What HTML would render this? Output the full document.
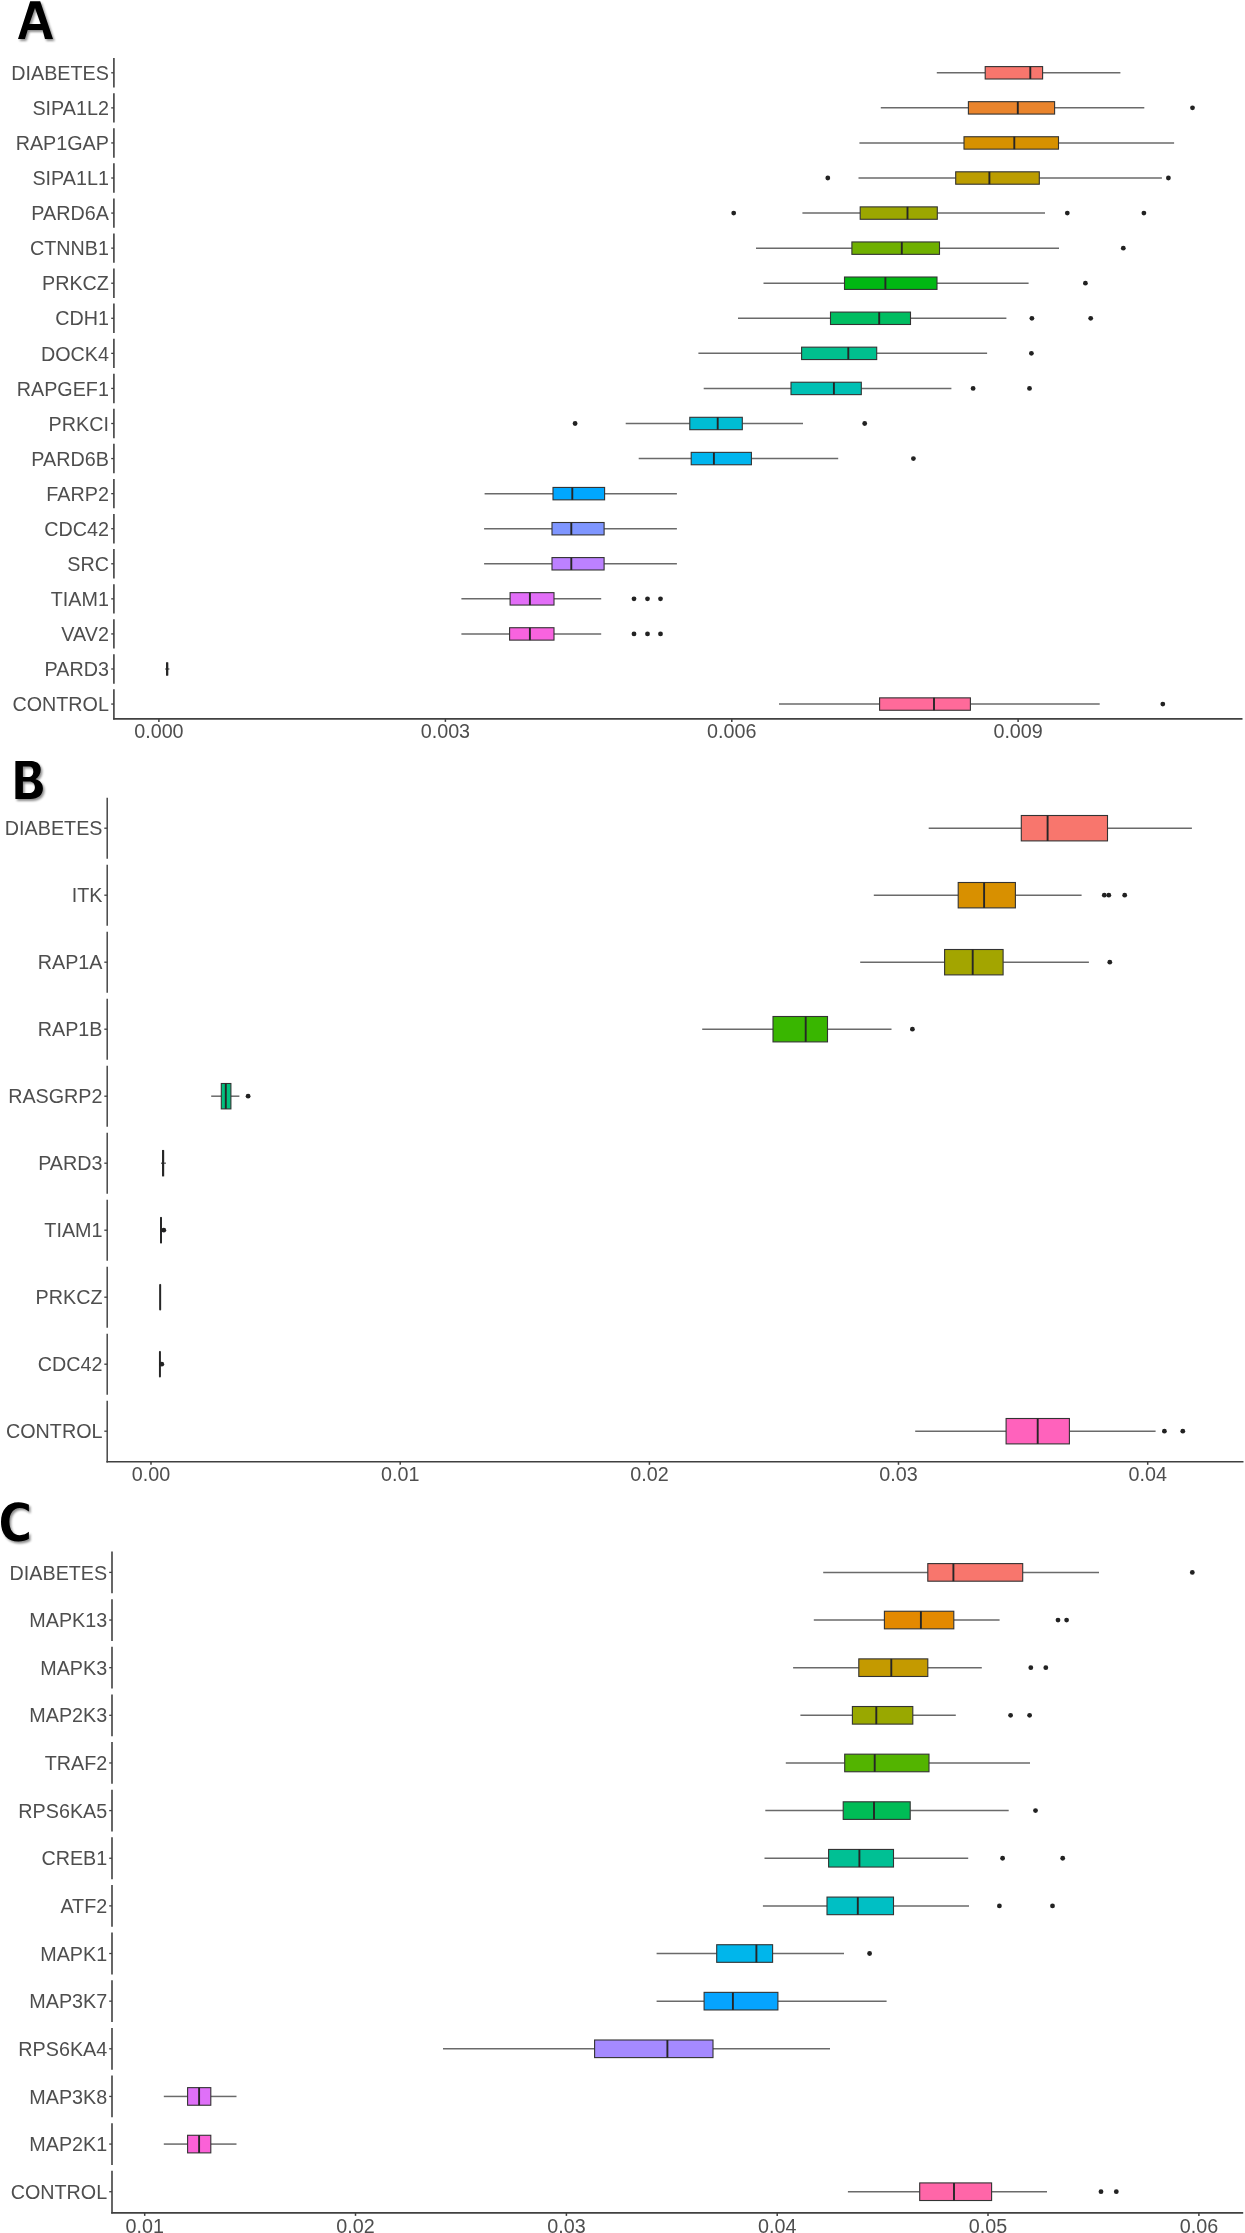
<!DOCTYPE html>
<html><head><meta charset="utf-8"><style>
html,body{margin:0;padding:0;background:#fff;}
svg{display:block;}
text{font-family:"Liberation Sans",sans-serif;}
</style></head><body>
<svg width="1245" height="2233" viewBox="0 0 1245 2233">
<defs><filter id="sh" x="-20%" y="-20%" width="150%" height="150%"><feDropShadow dx="1.6" dy="2" stdDeviation="1" flood-color="#000" flood-opacity="0.45"/></filter></defs>
<rect width="1245" height="2233" fill="#fff"/>

<g filter="url(#sh)" fill="#000">
<path d="M30.2 1.2 L40.2 1.2 L53 38.9 L45 38.9 L42.6 29.9 L27.7 29.9 L24.9 38.9 L18 38.9 Z M35 8 L29.3 24.1 L40.7 24.1 Z" fill-rule="evenodd"/>
<path fill-rule="evenodd" d="M15.4 761 L30 761 C36.5 761 40.7 763.5 40.7 769.8 C40.7 774 38.5 777 35.5 779.3 C40 780.5 42.9 783.5 42.9 788.5 C42.9 795 38 798.9 30.5 798.9 L15.4 798.9 Z M22.9 766.4 L29 766.4 C32 766.4 33.3 768 33.3 771.5 C33.3 775 31.5 777 28 777 L22.9 777 Z M22.9 781.6 L29 781.6 C33 781.6 34.9 784 34.9 787.3 C34.9 791 32.5 793.1 29 793.1 L22.9 793.1 Z"/>
<path d="M28.9 1504.8 C26 1503 22.5 1502.2 18.5 1502.2 C7.5 1502.2 1 1510 1 1521.9 C1 1534 7.5 1541.6 18.5 1541.6 C22.5 1541.6 26 1540.6 28.9 1538.8 L28.9 1531.8 C26.5 1533.6 23.5 1535.2 19.8 1535.2 C13.5 1535.2 9.4 1530 9.4 1521.7 C9.4 1513.4 13.5 1508 19.8 1508 C23.5 1508 26.5 1509.6 28.9 1511.5 Z"/>
</g>
<line x1="113.9" y1="58.1" x2="113.9" y2="87.5" stroke="#404040" stroke-width="1.6"/>
<line x1="111.2" y1="72.8" x2="113.9" y2="72.8" stroke="#404040" stroke-width="1.3"/>
<line x1="113.9" y1="93.17" x2="113.9" y2="122.57" stroke="#404040" stroke-width="1.6"/>
<line x1="111.2" y1="107.87" x2="113.9" y2="107.87" stroke="#404040" stroke-width="1.3"/>
<line x1="113.9" y1="128.24" x2="113.9" y2="157.64" stroke="#404040" stroke-width="1.6"/>
<line x1="111.2" y1="142.94" x2="113.9" y2="142.94" stroke="#404040" stroke-width="1.3"/>
<line x1="113.9" y1="163.31" x2="113.9" y2="192.71" stroke="#404040" stroke-width="1.6"/>
<line x1="111.2" y1="178.01" x2="113.9" y2="178.01" stroke="#404040" stroke-width="1.3"/>
<line x1="113.9" y1="198.38" x2="113.9" y2="227.78" stroke="#404040" stroke-width="1.6"/>
<line x1="111.2" y1="213.08" x2="113.9" y2="213.08" stroke="#404040" stroke-width="1.3"/>
<line x1="113.9" y1="233.45" x2="113.9" y2="262.85" stroke="#404040" stroke-width="1.6"/>
<line x1="111.2" y1="248.15" x2="113.9" y2="248.15" stroke="#404040" stroke-width="1.3"/>
<line x1="113.9" y1="268.52" x2="113.9" y2="297.92" stroke="#404040" stroke-width="1.6"/>
<line x1="111.2" y1="283.22" x2="113.9" y2="283.22" stroke="#404040" stroke-width="1.3"/>
<line x1="113.9" y1="303.59" x2="113.9" y2="332.99" stroke="#404040" stroke-width="1.6"/>
<line x1="111.2" y1="318.29" x2="113.9" y2="318.29" stroke="#404040" stroke-width="1.3"/>
<line x1="113.9" y1="338.66" x2="113.9" y2="368.06" stroke="#404040" stroke-width="1.6"/>
<line x1="111.2" y1="353.36" x2="113.9" y2="353.36" stroke="#404040" stroke-width="1.3"/>
<line x1="113.9" y1="373.73" x2="113.9" y2="403.13" stroke="#404040" stroke-width="1.6"/>
<line x1="111.2" y1="388.43" x2="113.9" y2="388.43" stroke="#404040" stroke-width="1.3"/>
<line x1="113.9" y1="408.8" x2="113.9" y2="438.2" stroke="#404040" stroke-width="1.6"/>
<line x1="111.2" y1="423.5" x2="113.9" y2="423.5" stroke="#404040" stroke-width="1.3"/>
<line x1="113.9" y1="443.87" x2="113.9" y2="473.27" stroke="#404040" stroke-width="1.6"/>
<line x1="111.2" y1="458.57" x2="113.9" y2="458.57" stroke="#404040" stroke-width="1.3"/>
<line x1="113.9" y1="478.94" x2="113.9" y2="508.34" stroke="#404040" stroke-width="1.6"/>
<line x1="111.2" y1="493.64" x2="113.9" y2="493.64" stroke="#404040" stroke-width="1.3"/>
<line x1="113.9" y1="514.01" x2="113.9" y2="543.41" stroke="#404040" stroke-width="1.6"/>
<line x1="111.2" y1="528.71" x2="113.9" y2="528.71" stroke="#404040" stroke-width="1.3"/>
<line x1="113.9" y1="549.08" x2="113.9" y2="578.48" stroke="#404040" stroke-width="1.6"/>
<line x1="111.2" y1="563.78" x2="113.9" y2="563.78" stroke="#404040" stroke-width="1.3"/>
<line x1="113.9" y1="584.15" x2="113.9" y2="613.55" stroke="#404040" stroke-width="1.6"/>
<line x1="111.2" y1="598.85" x2="113.9" y2="598.85" stroke="#404040" stroke-width="1.3"/>
<line x1="113.9" y1="619.22" x2="113.9" y2="648.62" stroke="#404040" stroke-width="1.6"/>
<line x1="111.2" y1="633.92" x2="113.9" y2="633.92" stroke="#404040" stroke-width="1.3"/>
<line x1="113.9" y1="654.29" x2="113.9" y2="683.69" stroke="#404040" stroke-width="1.6"/>
<line x1="111.2" y1="668.99" x2="113.9" y2="668.99" stroke="#404040" stroke-width="1.3"/>
<line x1="113.9" y1="689.36" x2="113.9" y2="719.5" stroke="#404040" stroke-width="1.6"/>
<line x1="111.2" y1="704.06" x2="113.9" y2="704.06" stroke="#404040" stroke-width="1.3"/>
<line x1="113.1" y1="718.9" x2="1242.5" y2="718.9" stroke="#404040" stroke-width="1.6"/>
<line x1="158.9" y1="718.9" x2="158.9" y2="721.9" stroke="#404040" stroke-width="1.5"/>
<line x1="445.4" y1="718.9" x2="445.4" y2="721.9" stroke="#404040" stroke-width="1.5"/>
<line x1="731.8" y1="718.9" x2="731.8" y2="721.9" stroke="#404040" stroke-width="1.5"/>
<line x1="1018.1" y1="718.9" x2="1018.1" y2="721.9" stroke="#404040" stroke-width="1.5"/>
<line x1="936.8" y1="72.8" x2="985.2" y2="72.8" stroke="#6A6A6A" stroke-width="1.5"/>
<line x1="1042.6" y1="72.8" x2="1120.4" y2="72.8" stroke="#6A6A6A" stroke-width="1.5"/>
<rect x="985.2" y="66.6" width="57.4" height="12.4" fill="#F8766D" stroke="#333333" stroke-width="1.1"/>
<line x1="1030.3" y1="66.6" x2="1030.3" y2="79" stroke="#262626" stroke-width="1.9"/>
<line x1="880.8" y1="107.87" x2="968.4" y2="107.87" stroke="#6A6A6A" stroke-width="1.5"/>
<line x1="1054.6" y1="107.87" x2="1144.3" y2="107.87" stroke="#6A6A6A" stroke-width="1.5"/>
<rect x="968.4" y="101.67" width="86.2" height="12.4" fill="#E9842C" stroke="#333333" stroke-width="1.1"/>
<line x1="1017.8" y1="101.67" x2="1017.8" y2="114.07" stroke="#262626" stroke-width="1.9"/>
<circle cx="1192.5" cy="107.87" r="2.4" fill="#222222"/>
<line x1="859.4" y1="142.94" x2="964" y2="142.94" stroke="#6A6A6A" stroke-width="1.5"/>
<line x1="1058.5" y1="142.94" x2="1174.1" y2="142.94" stroke="#6A6A6A" stroke-width="1.5"/>
<rect x="964" y="136.74" width="94.5" height="12.4" fill="#D69100" stroke="#333333" stroke-width="1.1"/>
<line x1="1014.3" y1="136.74" x2="1014.3" y2="149.14" stroke="#262626" stroke-width="1.9"/>
<line x1="858.5" y1="178.01" x2="955.7" y2="178.01" stroke="#6A6A6A" stroke-width="1.5"/>
<line x1="1039.3" y1="178.01" x2="1161.9" y2="178.01" stroke="#6A6A6A" stroke-width="1.5"/>
<rect x="955.7" y="171.81" width="83.6" height="12.4" fill="#BC9D00" stroke="#333333" stroke-width="1.1"/>
<line x1="989.4" y1="171.81" x2="989.4" y2="184.21" stroke="#262626" stroke-width="1.9"/>
<circle cx="827.8" cy="178.01" r="2.4" fill="#222222"/>
<circle cx="1168.4" cy="178.01" r="2.4" fill="#222222"/>
<line x1="802.4" y1="213.08" x2="860.2" y2="213.08" stroke="#6A6A6A" stroke-width="1.5"/>
<line x1="937.3" y1="213.08" x2="1045" y2="213.08" stroke="#6A6A6A" stroke-width="1.5"/>
<rect x="860.2" y="206.88" width="77.1" height="12.4" fill="#9CA700" stroke="#333333" stroke-width="1.1"/>
<line x1="907.5" y1="206.88" x2="907.5" y2="219.28" stroke="#262626" stroke-width="1.9"/>
<circle cx="733.7" cy="213.08" r="2.4" fill="#222222"/>
<circle cx="1067.3" cy="213.08" r="2.4" fill="#222222"/>
<circle cx="1143.9" cy="213.08" r="2.4" fill="#222222"/>
<line x1="756" y1="248.15" x2="851.9" y2="248.15" stroke="#6A6A6A" stroke-width="1.5"/>
<line x1="939.5" y1="248.15" x2="1059" y2="248.15" stroke="#6A6A6A" stroke-width="1.5"/>
<rect x="851.9" y="241.95" width="87.6" height="12.4" fill="#6FB000" stroke="#333333" stroke-width="1.1"/>
<line x1="901.8" y1="241.95" x2="901.8" y2="254.35" stroke="#262626" stroke-width="1.9"/>
<circle cx="1123.3" cy="248.15" r="2.4" fill="#222222"/>
<line x1="763.5" y1="283.22" x2="844.5" y2="283.22" stroke="#6A6A6A" stroke-width="1.5"/>
<line x1="937" y1="283.22" x2="1028.6" y2="283.22" stroke="#6A6A6A" stroke-width="1.5"/>
<rect x="844.5" y="277.02" width="92.5" height="12.4" fill="#00B813" stroke="#333333" stroke-width="1.1"/>
<line x1="885.4" y1="277.02" x2="885.4" y2="289.42" stroke="#262626" stroke-width="1.9"/>
<circle cx="1085.4" cy="283.22" r="2.4" fill="#222222"/>
<line x1="738" y1="318.29" x2="830.5" y2="318.29" stroke="#6A6A6A" stroke-width="1.5"/>
<line x1="910.5" y1="318.29" x2="1006.4" y2="318.29" stroke="#6A6A6A" stroke-width="1.5"/>
<rect x="830.5" y="312.09" width="80" height="12.4" fill="#00BD61" stroke="#333333" stroke-width="1.1"/>
<line x1="879.2" y1="312.09" x2="879.2" y2="324.49" stroke="#262626" stroke-width="1.9"/>
<circle cx="1031.9" cy="318.29" r="2.4" fill="#222222"/>
<circle cx="1090.7" cy="318.29" r="2.4" fill="#222222"/>
<line x1="698.4" y1="353.36" x2="801.6" y2="353.36" stroke="#6A6A6A" stroke-width="1.5"/>
<line x1="876.7" y1="353.36" x2="987.1" y2="353.36" stroke="#6A6A6A" stroke-width="1.5"/>
<rect x="801.6" y="347.16" width="75.1" height="12.4" fill="#00C08E" stroke="#333333" stroke-width="1.1"/>
<line x1="848.3" y1="347.16" x2="848.3" y2="359.56" stroke="#262626" stroke-width="1.9"/>
<circle cx="1031.4" cy="353.36" r="2.4" fill="#222222"/>
<line x1="703.7" y1="388.43" x2="791" y2="388.43" stroke="#6A6A6A" stroke-width="1.5"/>
<line x1="861.3" y1="388.43" x2="951.4" y2="388.43" stroke="#6A6A6A" stroke-width="1.5"/>
<rect x="791" y="382.23" width="70.3" height="12.4" fill="#00C0B4" stroke="#333333" stroke-width="1.1"/>
<line x1="833.9" y1="382.23" x2="833.9" y2="394.63" stroke="#262626" stroke-width="1.9"/>
<circle cx="973.1" cy="388.43" r="2.4" fill="#222222"/>
<circle cx="1029.5" cy="388.43" r="2.4" fill="#222222"/>
<line x1="625.7" y1="423.5" x2="689.8" y2="423.5" stroke="#6A6A6A" stroke-width="1.5"/>
<line x1="742.3" y1="423.5" x2="803" y2="423.5" stroke="#6A6A6A" stroke-width="1.5"/>
<rect x="689.8" y="417.3" width="52.5" height="12.4" fill="#00BDD4" stroke="#333333" stroke-width="1.1"/>
<line x1="717.7" y1="417.3" x2="717.7" y2="429.7" stroke="#262626" stroke-width="1.9"/>
<circle cx="575.1" cy="423.5" r="2.4" fill="#222222"/>
<circle cx="864.7" cy="423.5" r="2.4" fill="#222222"/>
<line x1="638.7" y1="458.57" x2="691.2" y2="458.57" stroke="#6A6A6A" stroke-width="1.5"/>
<line x1="751.4" y1="458.57" x2="838.2" y2="458.57" stroke="#6A6A6A" stroke-width="1.5"/>
<rect x="691.2" y="452.37" width="60.2" height="12.4" fill="#00B5EE" stroke="#333333" stroke-width="1.1"/>
<line x1="713.9" y1="452.37" x2="713.9" y2="464.77" stroke="#262626" stroke-width="1.9"/>
<circle cx="913.4" cy="458.57" r="2.4" fill="#222222"/>
<line x1="484.6" y1="493.64" x2="553" y2="493.64" stroke="#6A6A6A" stroke-width="1.5"/>
<line x1="604.6" y1="493.64" x2="676.9" y2="493.64" stroke="#6A6A6A" stroke-width="1.5"/>
<rect x="553" y="487.44" width="51.6" height="12.4" fill="#00A7FF" stroke="#333333" stroke-width="1.1"/>
<line x1="572.3" y1="487.44" x2="572.3" y2="499.84" stroke="#262626" stroke-width="1.9"/>
<line x1="484.1" y1="528.71" x2="552" y2="528.71" stroke="#6A6A6A" stroke-width="1.5"/>
<line x1="604.1" y1="528.71" x2="676.9" y2="528.71" stroke="#6A6A6A" stroke-width="1.5"/>
<rect x="552" y="522.51" width="52.1" height="12.4" fill="#7F96FF" stroke="#333333" stroke-width="1.1"/>
<line x1="571.3" y1="522.51" x2="571.3" y2="534.91" stroke="#262626" stroke-width="1.9"/>
<line x1="484.1" y1="563.78" x2="552" y2="563.78" stroke="#6A6A6A" stroke-width="1.5"/>
<line x1="604.1" y1="563.78" x2="676.9" y2="563.78" stroke="#6A6A6A" stroke-width="1.5"/>
<rect x="552" y="557.58" width="52.1" height="12.4" fill="#BC81FF" stroke="#333333" stroke-width="1.1"/>
<line x1="571.3" y1="557.58" x2="571.3" y2="569.98" stroke="#262626" stroke-width="1.9"/>
<line x1="461.4" y1="598.85" x2="510.1" y2="598.85" stroke="#6A6A6A" stroke-width="1.5"/>
<line x1="554" y1="598.85" x2="601.2" y2="598.85" stroke="#6A6A6A" stroke-width="1.5"/>
<rect x="510.1" y="592.65" width="43.9" height="12.4" fill="#E26EF7" stroke="#333333" stroke-width="1.1"/>
<line x1="529.9" y1="592.65" x2="529.9" y2="605.05" stroke="#262626" stroke-width="1.9"/>
<circle cx="634" cy="598.85" r="2.4" fill="#222222"/>
<circle cx="647.5" cy="598.85" r="2.4" fill="#222222"/>
<circle cx="660.5" cy="598.85" r="2.4" fill="#222222"/>
<line x1="461.4" y1="633.92" x2="509.6" y2="633.92" stroke="#6A6A6A" stroke-width="1.5"/>
<line x1="554" y1="633.92" x2="601.2" y2="633.92" stroke="#6A6A6A" stroke-width="1.5"/>
<rect x="509.6" y="627.72" width="44.4" height="12.4" fill="#F863DF" stroke="#333333" stroke-width="1.1"/>
<line x1="529.9" y1="627.72" x2="529.9" y2="640.12" stroke="#262626" stroke-width="1.9"/>
<circle cx="634" cy="633.92" r="2.4" fill="#222222"/>
<circle cx="647.5" cy="633.92" r="2.4" fill="#222222"/>
<circle cx="660.5" cy="633.92" r="2.4" fill="#222222"/>
<line x1="165.2" y1="668.99" x2="166.6" y2="668.99" stroke="#6A6A6A" stroke-width="1.5"/>
<line x1="167.7" y1="668.99" x2="169.4" y2="668.99" stroke="#6A6A6A" stroke-width="1.5"/>
<rect x="166.6" y="662.79" width="1.1" height="12.4" fill="#FF62BF" stroke="#333333" stroke-width="1.1"/>
<line x1="167.15" y1="662.79" x2="167.15" y2="675.19" stroke="#262626" stroke-width="1.9"/>
<line x1="779" y1="704.06" x2="879.6" y2="704.06" stroke="#6A6A6A" stroke-width="1.5"/>
<line x1="970.4" y1="704.06" x2="1099.7" y2="704.06" stroke="#6A6A6A" stroke-width="1.5"/>
<rect x="879.6" y="697.86" width="90.8" height="12.4" fill="#FF6A9A" stroke="#333333" stroke-width="1.1"/>
<line x1="934" y1="697.86" x2="934" y2="710.26" stroke="#262626" stroke-width="1.9"/>
<circle cx="1162.8" cy="704.06" r="2.4" fill="#222222"/>
<g opacity="0.995">
<text transform="translate(108.9,79.95) scale(0.95,1)" text-anchor="end" font-size="20.8" fill="#4D4D4D">DIABETES</text>
<text transform="translate(108.9,115.02) scale(0.95,1)" text-anchor="end" font-size="20.8" fill="#4D4D4D">SIPA1L2</text>
<text transform="translate(108.9,150.09) scale(0.95,1)" text-anchor="end" font-size="20.8" fill="#4D4D4D">RAP1GAP</text>
<text transform="translate(108.9,185.16) scale(0.95,1)" text-anchor="end" font-size="20.8" fill="#4D4D4D">SIPA1L1</text>
<text transform="translate(108.9,220.23) scale(0.95,1)" text-anchor="end" font-size="20.8" fill="#4D4D4D">PARD6A</text>
<text transform="translate(108.9,255.3) scale(0.95,1)" text-anchor="end" font-size="20.8" fill="#4D4D4D">CTNNB1</text>
<text transform="translate(108.9,290.37) scale(0.95,1)" text-anchor="end" font-size="20.8" fill="#4D4D4D">PRKCZ</text>
<text transform="translate(108.9,325.44) scale(0.95,1)" text-anchor="end" font-size="20.8" fill="#4D4D4D">CDH1</text>
<text transform="translate(108.9,360.51) scale(0.95,1)" text-anchor="end" font-size="20.8" fill="#4D4D4D">DOCK4</text>
<text transform="translate(108.9,395.58) scale(0.95,1)" text-anchor="end" font-size="20.8" fill="#4D4D4D">RAPGEF1</text>
<text transform="translate(108.9,430.65) scale(0.95,1)" text-anchor="end" font-size="20.8" fill="#4D4D4D">PRKCI</text>
<text transform="translate(108.9,465.72) scale(0.95,1)" text-anchor="end" font-size="20.8" fill="#4D4D4D">PARD6B</text>
<text transform="translate(108.9,500.79) scale(0.95,1)" text-anchor="end" font-size="20.8" fill="#4D4D4D">FARP2</text>
<text transform="translate(108.9,535.86) scale(0.95,1)" text-anchor="end" font-size="20.8" fill="#4D4D4D">CDC42</text>
<text transform="translate(108.9,570.93) scale(0.95,1)" text-anchor="end" font-size="20.8" fill="#4D4D4D">SRC</text>
<text transform="translate(108.9,606) scale(0.95,1)" text-anchor="end" font-size="20.8" fill="#4D4D4D">TIAM1</text>
<text transform="translate(108.9,641.07) scale(0.95,1)" text-anchor="end" font-size="20.8" fill="#4D4D4D">VAV2</text>
<text transform="translate(108.9,676.14) scale(0.95,1)" text-anchor="end" font-size="20.8" fill="#4D4D4D">PARD3</text>
<text transform="translate(108.9,711.21) scale(0.95,1)" text-anchor="end" font-size="20.8" fill="#4D4D4D">CONTROL</text>
<text transform="translate(158.9,738.3) scale(0.95,1)" text-anchor="middle" font-size="20.8" fill="#4D4D4D">0.000</text>
<text transform="translate(445.4,738.3) scale(0.95,1)" text-anchor="middle" font-size="20.8" fill="#4D4D4D">0.003</text>
<text transform="translate(731.8,738.3) scale(0.95,1)" text-anchor="middle" font-size="20.8" fill="#4D4D4D">0.006</text>
<text transform="translate(1018.1,738.3) scale(0.95,1)" text-anchor="middle" font-size="20.8" fill="#4D4D4D">0.009</text>
</g>
<line x1="107.2" y1="797.7" x2="107.2" y2="858.7" stroke="#404040" stroke-width="1.45"/>
<line x1="104.3" y1="828.2" x2="107.2" y2="828.2" stroke="#404040" stroke-width="1.3"/>
<line x1="107.2" y1="864.7" x2="107.2" y2="925.7" stroke="#404040" stroke-width="1.45"/>
<line x1="104.3" y1="895.2" x2="107.2" y2="895.2" stroke="#404040" stroke-width="1.3"/>
<line x1="107.2" y1="931.7" x2="107.2" y2="992.7" stroke="#404040" stroke-width="1.45"/>
<line x1="104.3" y1="962.2" x2="107.2" y2="962.2" stroke="#404040" stroke-width="1.3"/>
<line x1="107.2" y1="998.7" x2="107.2" y2="1059.7" stroke="#404040" stroke-width="1.45"/>
<line x1="104.3" y1="1029.2" x2="107.2" y2="1029.2" stroke="#404040" stroke-width="1.3"/>
<line x1="107.2" y1="1065.7" x2="107.2" y2="1126.7" stroke="#404040" stroke-width="1.45"/>
<line x1="104.3" y1="1096.2" x2="107.2" y2="1096.2" stroke="#404040" stroke-width="1.3"/>
<line x1="107.2" y1="1132.7" x2="107.2" y2="1193.7" stroke="#404040" stroke-width="1.45"/>
<line x1="104.3" y1="1163.2" x2="107.2" y2="1163.2" stroke="#404040" stroke-width="1.3"/>
<line x1="107.2" y1="1199.7" x2="107.2" y2="1260.7" stroke="#404040" stroke-width="1.45"/>
<line x1="104.3" y1="1230.2" x2="107.2" y2="1230.2" stroke="#404040" stroke-width="1.3"/>
<line x1="107.2" y1="1266.7" x2="107.2" y2="1327.7" stroke="#404040" stroke-width="1.45"/>
<line x1="104.3" y1="1297.2" x2="107.2" y2="1297.2" stroke="#404040" stroke-width="1.3"/>
<line x1="107.2" y1="1333.7" x2="107.2" y2="1394.7" stroke="#404040" stroke-width="1.45"/>
<line x1="104.3" y1="1364.2" x2="107.2" y2="1364.2" stroke="#404040" stroke-width="1.3"/>
<line x1="107.2" y1="1400.7" x2="107.2" y2="1462.4" stroke="#404040" stroke-width="1.45"/>
<line x1="104.3" y1="1431.2" x2="107.2" y2="1431.2" stroke="#404040" stroke-width="1.3"/>
<line x1="106.4" y1="1461.8" x2="1243.5" y2="1461.8" stroke="#404040" stroke-width="1.45"/>
<line x1="151" y1="1461.8" x2="151" y2="1464.8" stroke="#404040" stroke-width="1.5"/>
<line x1="400.2" y1="1461.8" x2="400.2" y2="1464.8" stroke="#404040" stroke-width="1.5"/>
<line x1="649.4" y1="1461.8" x2="649.4" y2="1464.8" stroke="#404040" stroke-width="1.5"/>
<line x1="898.5" y1="1461.8" x2="898.5" y2="1464.8" stroke="#404040" stroke-width="1.5"/>
<line x1="1147.7" y1="1461.8" x2="1147.7" y2="1464.8" stroke="#404040" stroke-width="1.5"/>
<line x1="928.7" y1="828.2" x2="1021.3" y2="828.2" stroke="#6A6A6A" stroke-width="1.5"/>
<line x1="1107.5" y1="828.2" x2="1191.9" y2="828.2" stroke="#6A6A6A" stroke-width="1.5"/>
<rect x="1021.3" y="815.5" width="86.2" height="25.4" fill="#F8766D" stroke="#333333" stroke-width="1.1"/>
<line x1="1047.6" y1="815.5" x2="1047.6" y2="840.9" stroke="#262626" stroke-width="1.9"/>
<line x1="873.8" y1="895.2" x2="958.2" y2="895.2" stroke="#6A6A6A" stroke-width="1.5"/>
<line x1="1015.4" y1="895.2" x2="1081.6" y2="895.2" stroke="#6A6A6A" stroke-width="1.5"/>
<rect x="958.2" y="882.5" width="57.2" height="25.4" fill="#D89000" stroke="#333333" stroke-width="1.1"/>
<line x1="984.1" y1="882.5" x2="984.1" y2="907.9" stroke="#262626" stroke-width="1.9"/>
<circle cx="1104.3" cy="895.2" r="2.4" fill="#222222"/>
<circle cx="1108.8" cy="895.2" r="2.4" fill="#222222"/>
<circle cx="1124.7" cy="895.2" r="2.4" fill="#222222"/>
<line x1="860.2" y1="962.2" x2="944.6" y2="962.2" stroke="#6A6A6A" stroke-width="1.5"/>
<line x1="1003.1" y1="962.2" x2="1088.9" y2="962.2" stroke="#6A6A6A" stroke-width="1.5"/>
<rect x="944.6" y="949.5" width="58.5" height="25.4" fill="#A3A500" stroke="#333333" stroke-width="1.1"/>
<line x1="972.7" y1="949.5" x2="972.7" y2="974.9" stroke="#262626" stroke-width="1.9"/>
<circle cx="1109.8" cy="962.2" r="2.4" fill="#222222"/>
<line x1="702.2" y1="1029.2" x2="773" y2="1029.2" stroke="#6A6A6A" stroke-width="1.5"/>
<line x1="827.5" y1="1029.2" x2="891.5" y2="1029.2" stroke="#6A6A6A" stroke-width="1.5"/>
<rect x="773" y="1016.5" width="54.5" height="25.4" fill="#39B600" stroke="#333333" stroke-width="1.1"/>
<line x1="805.7" y1="1016.5" x2="805.7" y2="1041.9" stroke="#262626" stroke-width="1.9"/>
<circle cx="912.4" cy="1029.2" r="2.4" fill="#222222"/>
<line x1="211.2" y1="1096.2" x2="221.3" y2="1096.2" stroke="#6A6A6A" stroke-width="1.5"/>
<line x1="230.9" y1="1096.2" x2="239.4" y2="1096.2" stroke="#6A6A6A" stroke-width="1.5"/>
<rect x="221.3" y="1083.5" width="9.6" height="25.4" fill="#00BF7D" stroke="#333333" stroke-width="1.1"/>
<line x1="225.8" y1="1083.5" x2="225.8" y2="1108.9" stroke="#262626" stroke-width="1.9"/>
<circle cx="248.1" cy="1096.2" r="2.4" fill="#222222"/>
<line x1="161" y1="1163.2" x2="162.6" y2="1163.2" stroke="#6A6A6A" stroke-width="1.5"/>
<line x1="163.6" y1="1163.2" x2="165.9" y2="1163.2" stroke="#6A6A6A" stroke-width="1.5"/>
<rect x="162.6" y="1150.5" width="1" height="25.4" fill="#00BFC4" stroke="#333333" stroke-width="1.1"/>
<line x1="163.1" y1="1150.5" x2="163.1" y2="1175.9" stroke="#262626" stroke-width="1.9"/>
<line x1="160.6" y1="1230.2" x2="160.7" y2="1230.2" stroke="#6A6A6A" stroke-width="1.5"/>
<line x1="161.3" y1="1230.2" x2="161.4" y2="1230.2" stroke="#6A6A6A" stroke-width="1.5"/>
<rect x="160.7" y="1217.5" width="0.6" height="25.4" fill="#00B0F6" stroke="#333333" stroke-width="1.1"/>
<line x1="161" y1="1217.5" x2="161" y2="1242.9" stroke="#262626" stroke-width="1.9"/>
<circle cx="163.8" cy="1230.2" r="2.4" fill="#222222"/>
<line x1="160" y1="1297.2" x2="160.1" y2="1297.2" stroke="#6A6A6A" stroke-width="1.5"/>
<line x1="160.3" y1="1297.2" x2="160.4" y2="1297.2" stroke="#6A6A6A" stroke-width="1.5"/>
<rect x="160.1" y="1284.5" width="0.2" height="25.4" fill="#9590FF" stroke="#333333" stroke-width="1.1"/>
<line x1="160.2" y1="1284.5" x2="160.2" y2="1309.9" stroke="#262626" stroke-width="1.9"/>
<line x1="159.7" y1="1364.2" x2="159.8" y2="1364.2" stroke="#6A6A6A" stroke-width="1.5"/>
<line x1="160" y1="1364.2" x2="160.1" y2="1364.2" stroke="#6A6A6A" stroke-width="1.5"/>
<rect x="159.8" y="1351.5" width="0.2" height="25.4" fill="#E76BF3" stroke="#333333" stroke-width="1.1"/>
<line x1="159.9" y1="1351.5" x2="159.9" y2="1376.9" stroke="#262626" stroke-width="1.9"/>
<circle cx="161.8" cy="1364.2" r="2.4" fill="#222222"/>
<line x1="915.2" y1="1431.2" x2="1006.1" y2="1431.2" stroke="#6A6A6A" stroke-width="1.5"/>
<line x1="1069.4" y1="1431.2" x2="1155.6" y2="1431.2" stroke="#6A6A6A" stroke-width="1.5"/>
<rect x="1006.1" y="1418.5" width="63.3" height="25.4" fill="#FF62BC" stroke="#333333" stroke-width="1.1"/>
<line x1="1037.7" y1="1418.5" x2="1037.7" y2="1443.9" stroke="#262626" stroke-width="1.9"/>
<circle cx="1164.4" cy="1431.2" r="2.4" fill="#222222"/>
<circle cx="1182.8" cy="1431.2" r="2.4" fill="#222222"/>
<g opacity="0.995">
<text transform="translate(102.5,835.35) scale(0.95,1)" text-anchor="end" font-size="20.8" fill="#4D4D4D">DIABETES</text>
<text transform="translate(102.5,902.35) scale(0.95,1)" text-anchor="end" font-size="20.8" fill="#4D4D4D">ITK</text>
<text transform="translate(102.5,969.35) scale(0.95,1)" text-anchor="end" font-size="20.8" fill="#4D4D4D">RAP1A</text>
<text transform="translate(102.5,1036.35) scale(0.95,1)" text-anchor="end" font-size="20.8" fill="#4D4D4D">RAP1B</text>
<text transform="translate(102.5,1103.35) scale(0.95,1)" text-anchor="end" font-size="20.8" fill="#4D4D4D">RASGRP2</text>
<text transform="translate(102.5,1170.35) scale(0.95,1)" text-anchor="end" font-size="20.8" fill="#4D4D4D">PARD3</text>
<text transform="translate(102.5,1237.35) scale(0.95,1)" text-anchor="end" font-size="20.8" fill="#4D4D4D">TIAM1</text>
<text transform="translate(102.5,1304.35) scale(0.95,1)" text-anchor="end" font-size="20.8" fill="#4D4D4D">PRKCZ</text>
<text transform="translate(102.5,1371.35) scale(0.95,1)" text-anchor="end" font-size="20.8" fill="#4D4D4D">CDC42</text>
<text transform="translate(102.5,1438.35) scale(0.95,1)" text-anchor="end" font-size="20.8" fill="#4D4D4D">CONTROL</text>
<text transform="translate(151,1481.4) scale(0.95,1)" text-anchor="middle" font-size="20.8" fill="#4D4D4D">0.00</text>
<text transform="translate(400.2,1481.4) scale(0.95,1)" text-anchor="middle" font-size="20.8" fill="#4D4D4D">0.01</text>
<text transform="translate(649.4,1481.4) scale(0.95,1)" text-anchor="middle" font-size="20.8" fill="#4D4D4D">0.02</text>
<text transform="translate(898.5,1481.4) scale(0.95,1)" text-anchor="middle" font-size="20.8" fill="#4D4D4D">0.03</text>
<text transform="translate(1147.7,1481.4) scale(0.95,1)" text-anchor="middle" font-size="20.8" fill="#4D4D4D">0.04</text>
</g>
<line x1="112" y1="1551.5" x2="112" y2="1593.3" stroke="#404040" stroke-width="1.6"/>
<line x1="109.2" y1="1572.4" x2="112" y2="1572.4" stroke="#404040" stroke-width="1.3"/>
<line x1="112" y1="1599.14" x2="112" y2="1640.94" stroke="#404040" stroke-width="1.6"/>
<line x1="109.2" y1="1620.04" x2="112" y2="1620.04" stroke="#404040" stroke-width="1.3"/>
<line x1="112" y1="1646.78" x2="112" y2="1688.58" stroke="#404040" stroke-width="1.6"/>
<line x1="109.2" y1="1667.68" x2="112" y2="1667.68" stroke="#404040" stroke-width="1.3"/>
<line x1="112" y1="1694.42" x2="112" y2="1736.22" stroke="#404040" stroke-width="1.6"/>
<line x1="109.2" y1="1715.32" x2="112" y2="1715.32" stroke="#404040" stroke-width="1.3"/>
<line x1="112" y1="1742.06" x2="112" y2="1783.86" stroke="#404040" stroke-width="1.6"/>
<line x1="109.2" y1="1762.96" x2="112" y2="1762.96" stroke="#404040" stroke-width="1.3"/>
<line x1="112" y1="1789.7" x2="112" y2="1831.5" stroke="#404040" stroke-width="1.6"/>
<line x1="109.2" y1="1810.6" x2="112" y2="1810.6" stroke="#404040" stroke-width="1.3"/>
<line x1="112" y1="1837.34" x2="112" y2="1879.14" stroke="#404040" stroke-width="1.6"/>
<line x1="109.2" y1="1858.24" x2="112" y2="1858.24" stroke="#404040" stroke-width="1.3"/>
<line x1="112" y1="1884.98" x2="112" y2="1926.78" stroke="#404040" stroke-width="1.6"/>
<line x1="109.2" y1="1905.88" x2="112" y2="1905.88" stroke="#404040" stroke-width="1.3"/>
<line x1="112" y1="1932.62" x2="112" y2="1974.42" stroke="#404040" stroke-width="1.6"/>
<line x1="109.2" y1="1953.52" x2="112" y2="1953.52" stroke="#404040" stroke-width="1.3"/>
<line x1="112" y1="1980.26" x2="112" y2="2022.06" stroke="#404040" stroke-width="1.6"/>
<line x1="109.2" y1="2001.16" x2="112" y2="2001.16" stroke="#404040" stroke-width="1.3"/>
<line x1="112" y1="2027.9" x2="112" y2="2069.7" stroke="#404040" stroke-width="1.6"/>
<line x1="109.2" y1="2048.8" x2="112" y2="2048.8" stroke="#404040" stroke-width="1.3"/>
<line x1="112" y1="2075.54" x2="112" y2="2117.34" stroke="#404040" stroke-width="1.6"/>
<line x1="109.2" y1="2096.44" x2="112" y2="2096.44" stroke="#404040" stroke-width="1.3"/>
<line x1="112" y1="2123.18" x2="112" y2="2164.98" stroke="#404040" stroke-width="1.6"/>
<line x1="109.2" y1="2144.08" x2="112" y2="2144.08" stroke="#404040" stroke-width="1.3"/>
<line x1="112" y1="2170.82" x2="112" y2="2213.5" stroke="#404040" stroke-width="1.6"/>
<line x1="109.2" y1="2191.72" x2="112" y2="2191.72" stroke="#404040" stroke-width="1.3"/>
<line x1="111.2" y1="2212.9" x2="1243.2" y2="2212.9" stroke="#404040" stroke-width="1.6"/>
<line x1="144.7" y1="2212.9" x2="144.7" y2="2215.9" stroke="#404040" stroke-width="1.5"/>
<line x1="355.5" y1="2212.9" x2="355.5" y2="2215.9" stroke="#404040" stroke-width="1.5"/>
<line x1="566.4" y1="2212.9" x2="566.4" y2="2215.9" stroke="#404040" stroke-width="1.5"/>
<line x1="777.2" y1="2212.9" x2="777.2" y2="2215.9" stroke="#404040" stroke-width="1.5"/>
<line x1="988" y1="2212.9" x2="988" y2="2215.9" stroke="#404040" stroke-width="1.5"/>
<line x1="1198.9" y1="2212.9" x2="1198.9" y2="2215.9" stroke="#404040" stroke-width="1.5"/>
<line x1="823.2" y1="1572.4" x2="927.8" y2="1572.4" stroke="#6A6A6A" stroke-width="1.5"/>
<line x1="1022.7" y1="1572.4" x2="1099" y2="1572.4" stroke="#6A6A6A" stroke-width="1.5"/>
<rect x="927.8" y="1563.6" width="94.9" height="17.6" fill="#F8766D" stroke="#333333" stroke-width="1.1"/>
<line x1="953.4" y1="1563.6" x2="953.4" y2="1581.2" stroke="#262626" stroke-width="1.9"/>
<circle cx="1192.3" cy="1572.4" r="2.4" fill="#222222"/>
<line x1="813.8" y1="1620.04" x2="884.4" y2="1620.04" stroke="#6A6A6A" stroke-width="1.5"/>
<line x1="953.8" y1="1620.04" x2="999.6" y2="1620.04" stroke="#6A6A6A" stroke-width="1.5"/>
<rect x="884.4" y="1611.24" width="69.4" height="17.6" fill="#E38900" stroke="#333333" stroke-width="1.1"/>
<line x1="920.9" y1="1611.24" x2="920.9" y2="1628.84" stroke="#262626" stroke-width="1.9"/>
<circle cx="1058" cy="1620.04" r="2.4" fill="#222222"/>
<circle cx="1066.6" cy="1620.04" r="2.4" fill="#222222"/>
<line x1="793.1" y1="1667.68" x2="858.8" y2="1667.68" stroke="#6A6A6A" stroke-width="1.5"/>
<line x1="927.8" y1="1667.68" x2="981.8" y2="1667.68" stroke="#6A6A6A" stroke-width="1.5"/>
<rect x="858.8" y="1658.88" width="69" height="17.6" fill="#C49A00" stroke="#333333" stroke-width="1.1"/>
<line x1="891.3" y1="1658.88" x2="891.3" y2="1676.48" stroke="#262626" stroke-width="1.9"/>
<circle cx="1030.8" cy="1667.68" r="2.4" fill="#222222"/>
<circle cx="1045.8" cy="1667.68" r="2.4" fill="#222222"/>
<line x1="800.4" y1="1715.32" x2="852.4" y2="1715.32" stroke="#6A6A6A" stroke-width="1.5"/>
<line x1="912.8" y1="1715.32" x2="955.8" y2="1715.32" stroke="#6A6A6A" stroke-width="1.5"/>
<rect x="852.4" y="1706.52" width="60.4" height="17.6" fill="#99A800" stroke="#333333" stroke-width="1.1"/>
<line x1="876.3" y1="1706.52" x2="876.3" y2="1724.12" stroke="#262626" stroke-width="1.9"/>
<circle cx="1010.6" cy="1715.32" r="2.4" fill="#222222"/>
<circle cx="1029.6" cy="1715.32" r="2.4" fill="#222222"/>
<line x1="785.8" y1="1762.96" x2="844.7" y2="1762.96" stroke="#6A6A6A" stroke-width="1.5"/>
<line x1="929" y1="1762.96" x2="1030" y2="1762.96" stroke="#6A6A6A" stroke-width="1.5"/>
<rect x="844.7" y="1754.16" width="84.3" height="17.6" fill="#53B400" stroke="#333333" stroke-width="1.1"/>
<line x1="874.7" y1="1754.16" x2="874.7" y2="1771.76" stroke="#262626" stroke-width="1.9"/>
<line x1="765.3" y1="1810.6" x2="843.2" y2="1810.6" stroke="#6A6A6A" stroke-width="1.5"/>
<line x1="910.2" y1="1810.6" x2="1008.7" y2="1810.6" stroke="#6A6A6A" stroke-width="1.5"/>
<rect x="843.2" y="1801.8" width="67" height="17.6" fill="#00BC56" stroke="#333333" stroke-width="1.1"/>
<line x1="874" y1="1801.8" x2="874" y2="1819.4" stroke="#262626" stroke-width="1.9"/>
<circle cx="1035.5" cy="1810.6" r="2.4" fill="#222222"/>
<line x1="764.5" y1="1858.24" x2="828.6" y2="1858.24" stroke="#6A6A6A" stroke-width="1.5"/>
<line x1="893.5" y1="1858.24" x2="968.2" y2="1858.24" stroke="#6A6A6A" stroke-width="1.5"/>
<rect x="828.6" y="1849.44" width="64.9" height="17.6" fill="#00C094" stroke="#333333" stroke-width="1.1"/>
<line x1="859.4" y1="1849.44" x2="859.4" y2="1867.04" stroke="#262626" stroke-width="1.9"/>
<circle cx="1002.6" cy="1858.24" r="2.4" fill="#222222"/>
<circle cx="1062.7" cy="1858.24" r="2.4" fill="#222222"/>
<line x1="762.9" y1="1905.88" x2="827" y2="1905.88" stroke="#6A6A6A" stroke-width="1.5"/>
<line x1="893.5" y1="1905.88" x2="969" y2="1905.88" stroke="#6A6A6A" stroke-width="1.5"/>
<rect x="827" y="1897.08" width="66.5" height="17.6" fill="#00BFC4" stroke="#333333" stroke-width="1.1"/>
<line x1="857.8" y1="1897.08" x2="857.8" y2="1914.68" stroke="#262626" stroke-width="1.9"/>
<circle cx="999.4" cy="1905.88" r="2.4" fill="#222222"/>
<circle cx="1052.5" cy="1905.88" r="2.4" fill="#222222"/>
<line x1="656.6" y1="1953.52" x2="716.7" y2="1953.52" stroke="#6A6A6A" stroke-width="1.5"/>
<line x1="772.6" y1="1953.52" x2="844" y2="1953.52" stroke="#6A6A6A" stroke-width="1.5"/>
<rect x="716.7" y="1944.72" width="55.9" height="17.6" fill="#00B6EB" stroke="#333333" stroke-width="1.1"/>
<line x1="756.4" y1="1944.72" x2="756.4" y2="1962.32" stroke="#262626" stroke-width="1.9"/>
<circle cx="869.6" cy="1953.52" r="2.4" fill="#222222"/>
<line x1="656.6" y1="2001.16" x2="704.1" y2="2001.16" stroke="#6A6A6A" stroke-width="1.5"/>
<line x1="777.9" y1="2001.16" x2="886.6" y2="2001.16" stroke="#6A6A6A" stroke-width="1.5"/>
<rect x="704.1" y="1992.36" width="73.8" height="17.6" fill="#06A4FF" stroke="#333333" stroke-width="1.1"/>
<line x1="732.9" y1="1992.36" x2="732.9" y2="2009.96" stroke="#262626" stroke-width="1.9"/>
<line x1="443" y1="2048.8" x2="594.6" y2="2048.8" stroke="#6A6A6A" stroke-width="1.5"/>
<line x1="713" y1="2048.8" x2="830" y2="2048.8" stroke="#6A6A6A" stroke-width="1.5"/>
<rect x="594.6" y="2040" width="118.4" height="17.6" fill="#A58AFF" stroke="#333333" stroke-width="1.1"/>
<line x1="667.4" y1="2040" x2="667.4" y2="2057.6" stroke="#262626" stroke-width="1.9"/>
<line x1="163.8" y1="2096.44" x2="187.6" y2="2096.44" stroke="#6A6A6A" stroke-width="1.5"/>
<line x1="210.8" y1="2096.44" x2="236.5" y2="2096.44" stroke="#6A6A6A" stroke-width="1.5"/>
<rect x="187.6" y="2087.64" width="23.2" height="17.6" fill="#DF70F8" stroke="#333333" stroke-width="1.1"/>
<line x1="199.1" y1="2087.64" x2="199.1" y2="2105.24" stroke="#262626" stroke-width="1.9"/>
<line x1="163.8" y1="2144.08" x2="187.6" y2="2144.08" stroke="#6A6A6A" stroke-width="1.5"/>
<line x1="210.8" y1="2144.08" x2="236.5" y2="2144.08" stroke="#6A6A6A" stroke-width="1.5"/>
<rect x="187.6" y="2135.28" width="23.2" height="17.6" fill="#FB61D7" stroke="#333333" stroke-width="1.1"/>
<line x1="199.1" y1="2135.28" x2="199.1" y2="2152.88" stroke="#262626" stroke-width="1.9"/>
<line x1="847.9" y1="2191.72" x2="919.7" y2="2191.72" stroke="#6A6A6A" stroke-width="1.5"/>
<line x1="991.6" y1="2191.72" x2="1047" y2="2191.72" stroke="#6A6A6A" stroke-width="1.5"/>
<rect x="919.7" y="2182.92" width="71.9" height="17.6" fill="#FF66A8" stroke="#333333" stroke-width="1.1"/>
<line x1="954" y1="2182.92" x2="954" y2="2200.52" stroke="#262626" stroke-width="1.9"/>
<circle cx="1101" cy="2191.72" r="2.4" fill="#222222"/>
<circle cx="1116.3" cy="2191.72" r="2.4" fill="#222222"/>
<g opacity="0.995">
<text transform="translate(107.2,1579.55) scale(0.95,1)" text-anchor="end" font-size="20.8" fill="#4D4D4D">DIABETES</text>
<text transform="translate(107.2,1627.19) scale(0.95,1)" text-anchor="end" font-size="20.8" fill="#4D4D4D">MAPK13</text>
<text transform="translate(107.2,1674.83) scale(0.95,1)" text-anchor="end" font-size="20.8" fill="#4D4D4D">MAPK3</text>
<text transform="translate(107.2,1722.47) scale(0.95,1)" text-anchor="end" font-size="20.8" fill="#4D4D4D">MAP2K3</text>
<text transform="translate(107.2,1770.11) scale(0.95,1)" text-anchor="end" font-size="20.8" fill="#4D4D4D">TRAF2</text>
<text transform="translate(107.2,1817.75) scale(0.95,1)" text-anchor="end" font-size="20.8" fill="#4D4D4D">RPS6KA5</text>
<text transform="translate(107.2,1865.39) scale(0.95,1)" text-anchor="end" font-size="20.8" fill="#4D4D4D">CREB1</text>
<text transform="translate(107.2,1913.03) scale(0.95,1)" text-anchor="end" font-size="20.8" fill="#4D4D4D">ATF2</text>
<text transform="translate(107.2,1960.67) scale(0.95,1)" text-anchor="end" font-size="20.8" fill="#4D4D4D">MAPK1</text>
<text transform="translate(107.2,2008.31) scale(0.95,1)" text-anchor="end" font-size="20.8" fill="#4D4D4D">MAP3K7</text>
<text transform="translate(107.2,2055.95) scale(0.95,1)" text-anchor="end" font-size="20.8" fill="#4D4D4D">RPS6KA4</text>
<text transform="translate(107.2,2103.59) scale(0.95,1)" text-anchor="end" font-size="20.8" fill="#4D4D4D">MAP3K8</text>
<text transform="translate(107.2,2151.23) scale(0.95,1)" text-anchor="end" font-size="20.8" fill="#4D4D4D">MAP2K1</text>
<text transform="translate(107.2,2198.87) scale(0.95,1)" text-anchor="end" font-size="20.8" fill="#4D4D4D">CONTROL</text>
<text transform="translate(144.7,2232.6) scale(0.95,1)" text-anchor="middle" font-size="20.8" fill="#4D4D4D">0.01</text>
<text transform="translate(355.5,2232.6) scale(0.95,1)" text-anchor="middle" font-size="20.8" fill="#4D4D4D">0.02</text>
<text transform="translate(566.4,2232.6) scale(0.95,1)" text-anchor="middle" font-size="20.8" fill="#4D4D4D">0.03</text>
<text transform="translate(777.2,2232.6) scale(0.95,1)" text-anchor="middle" font-size="20.8" fill="#4D4D4D">0.04</text>
<text transform="translate(988,2232.6) scale(0.95,1)" text-anchor="middle" font-size="20.8" fill="#4D4D4D">0.05</text>
<text transform="translate(1198.9,2232.6) scale(0.95,1)" text-anchor="middle" font-size="20.8" fill="#4D4D4D">0.06</text>
</g>
</svg>
</body></html>
